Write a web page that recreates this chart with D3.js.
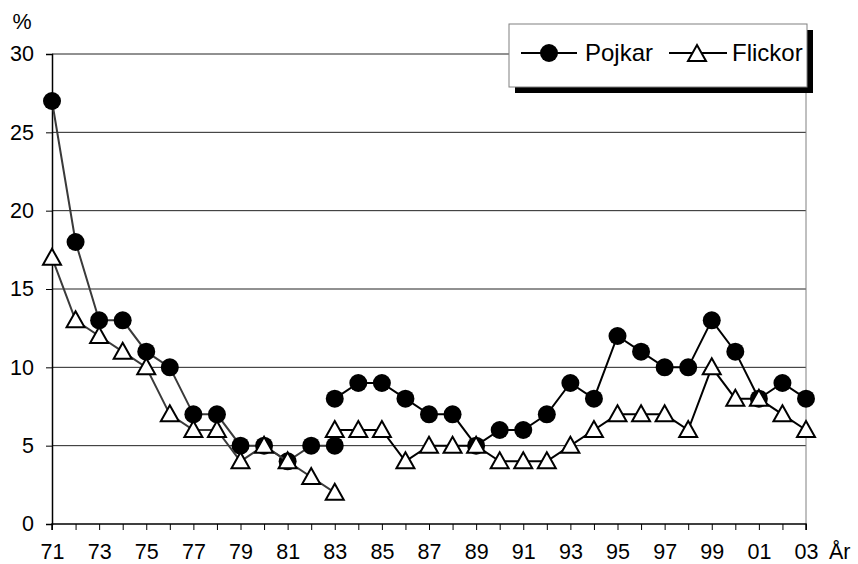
<!DOCTYPE html>
<html>
<head>
<meta charset="utf-8">
<script src="https://cdn.jsdelivr.net/npm/d3@7"></script>
<style>
  html, body { margin: 0; padding: 0; background: #fff; }
  svg { display: block; font-family: Arial, "Liberation Sans", Helvetica, sans-serif; }
</style>
</head>
<body>
<svg id="chart" width="858" height="564"></svg>
<script>
// Years 1971–2003 (numeric index 71..103)
const yearsA = [71, 72, 73, 74, 75, 76, 77, 78, 79, 80, 81, 82, 83];
const pojkarA = [27, 18, 13, 13, 11, 10, 7, 7, 5, 5, 4, 5, 5];
const flickorA = [17, 13, 12, 11, 10, 7, 6, 6, 4, 5, 4, 3, 2];

const yearsB = [83, 84, 85, 86, 87, 88, 89, 90, 91, 92, 93, 94, 95, 96, 97, 98, 99, 100, 101, 102, 103];
const pojkarB = [8, 9, 9, 8, 7, 7, 5, 6, 6, 7, 9, 8, 12, 11, 10, 10, 13, 11, 8, 9, 8];
const flickorB = [6, 6, 6, 4, 5, 5, 5, 4, 4, 4, 5, 6, 7, 7, 7, 6, 10, 8, 8, 7, 6];

const xTickLabels = ["71","73","75","77","79","81","83","85","87","89","91","93","95","97","99","01","03"];
const yTicks = [0, 5, 10, 15, 20, 25, 30];
const seriesNames = ["Pojkar", "Flickor"];

(function () {
const svg = d3.select("#chart");
const mLeft = 52, mRight = 806, mTop = 54, mBottom = 524;
const FS = 21.5;

const x = d3.scaleLinear().domain([71, 103]).range([mLeft, mRight]);
const y = d3.scaleLinear().domain([0, 30]).range([mBottom, mTop]);

// gridlines
svg.append("g").selectAll("line").data(yTicks.filter(d => d > 0)).join("line")
  .attr("x1", mLeft).attr("x2", mRight)
  .attr("y1", d => y(d)).attr("y2", d => y(d))
  .attr("stroke", "#222").attr("stroke-width", 1);

// right border
svg.append("line").attr("x1", mRight).attr("x2", mRight).attr("y1", mTop).attr("y2", mBottom)
  .attr("stroke", "#808080").attr("stroke-width", 1);

// y axis
const yAxis = d3.axisLeft(y).tickValues(yTicks).tickSize(6).tickPadding(12);
const gy = svg.append("g").attr("transform", `translate(${mLeft},0)`).call(yAxis);
gy.select(".domain").attr("stroke", "#000").attr("stroke-width", 1.5);
gy.selectAll(".tick line").attr("stroke", "#000");
gy.selectAll("text").attr("font-size", FS).attr("fill", "#000")
  .attr("font-family", "Arial, 'Liberation Sans', sans-serif");

// x axis
const allYears = d3.range(71, 104);
const xAxis = d3.axisBottom(x).tickValues(allYears).tickSize(6).tickPadding(14)
  .tickFormat(d => { const i = (d - 71); return i % 2 === 0 ? xTickLabels[i / 2] : ""; });
const gx = svg.append("g").attr("transform", `translate(0,${mBottom})`).call(xAxis);
gx.select(".domain").attr("stroke", "#000").attr("stroke-width", 1.5).attr("d", `M${mLeft},6V0H${mRight}V6`);
gx.selectAll(".tick line").attr("stroke", "#000");
gx.selectAll("text").attr("font-size", FS).attr("fill", "#000")
  .attr("font-family", "Arial, 'Liberation Sans', sans-serif");

// axis titles
svg.append("text").attr("x", 22).attr("y", 29).attr("text-anchor", "middle")
  .attr("font-size", FS).text("%");
svg.append("text").attr("x", 829).attr("y", 559)
  .attr("font-size", FS).text("År");

const line = d3.line().x(d => x(d[0])).y(d => y(d[1]));
const triPath = "M0,-9L9,7L-9,7Z";

function drawSeries(years, vals, kind, color) {
  const pts = years.map((yr, i) => [yr, vals[i]]);
  svg.append("path").datum(pts).attr("d", line)
    .attr("fill", "none").attr("stroke", color).attr("stroke-width", 2);
  if (kind === "circle") {
    svg.append("g").selectAll("circle").data(pts).join("circle")
      .attr("cx", d => x(d[0])).attr("cy", d => y(d[1])).attr("r", 9)
      .attr("fill", "#000");
  } else {
    svg.append("g").selectAll("path").data(pts).join("path")
      .attr("transform", d => `translate(${x(d[0])},${y(d[1])})`)
      .attr("d", triPath).attr("fill", "#fff").attr("stroke", "#000").attr("stroke-width", 2)
      .attr("stroke-linejoin", "miter");
  }
}

drawSeries(yearsA, pojkarA, "circle", "#3a3a3a");
drawSeries(yearsA, flickorA, "tri", "#3a3a3a");
drawSeries(yearsB, pojkarB, "circle", "#000");
drawSeries(yearsB, flickorB, "tri", "#000");

// legend
const lg = svg.append("g");
const lx = 509, ly = 24, lw = 298, lh = 63;
lg.append("rect").attr("x", lx + 6).attr("y", ly + 6).attr("width", lw).attr("height", lh).attr("fill", "#000");
lg.append("rect").attr("x", lx).attr("y", ly).attr("width", lw).attr("height", lh)
  .attr("fill", "#fff").attr("stroke", "#808080").attr("stroke-width", 1);
const ry = 53;
lg.append("line").attr("x1", 521).attr("x2", 577).attr("y1", ry).attr("y2", ry).attr("stroke", "#000").attr("stroke-width", 2);
lg.append("circle").attr("cx", 549).attr("cy", ry).attr("r", 9).attr("fill", "#000");
lg.append("text").attr("x", 585).attr("y", ry + 8).attr("font-size", 24).text(seriesNames[0]);
lg.append("line").attr("x1", 669).attr("x2", 727).attr("y1", ry).attr("y2", ry).attr("stroke", "#000").attr("stroke-width", 2);
lg.append("path").attr("transform", `translate(697,${ry + 1})`).attr("d", triPath)
  .attr("fill", "#fff").attr("stroke", "#000").attr("stroke-width", 2);
lg.append("text").attr("x", 732).attr("y", ry + 8).attr("font-size", 24).text(seriesNames[1]);
})();
</script>
</body>
</html>
